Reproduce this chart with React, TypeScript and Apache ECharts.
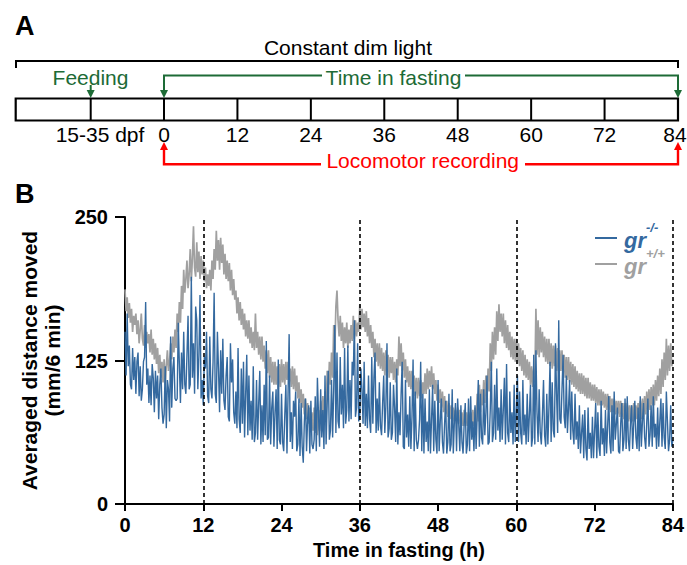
import React, { useEffect, useRef } from "react";
import * as echarts from "echarts";

const FONT = "'Liberation Sans', Arial, sans-serif";
const BLUE = "#34699f";
const GRAY = "#a0a0a0";
const GREEN = "#1d6b36";
const RED = "#ff0000";

// samples per hour of the recordings (10-min bins)
const SAMPLES_PER_HOUR = 6;
const X_TICK_INTERVAL = 12;
const DASHED_HOURS = [12, 36, 60, 84];
const TIMELINE_HOURS = [0, 12, 24, 36, 48, 60, 72, 84];

// gr+/+ (gray), 6 samples per hour, 0..84 h (one row per hour)
const GR_WT = [
  187, 168, 180, 162, 175, 158,
  170, 150, 164, 156, 166, 148,
  160, 140, 152, 166, 144, 138,
  156, 136, 150, 140, 148, 132,
  152, 130, 144, 126, 140, 122,
  136, 114, 130, 110, 124, 106,
  126, 104, 120, 134, 116, 124,
  140, 126, 146, 132, 152, 136,
  166, 150, 176, 158, 190, 170,
  204, 184, 196, 212, 188, 200,
  222, 194, 214, 242, 206, 198,
  228, 202, 220, 196, 216, 200,
  212, 194, 206, 188, 200, 190,
  204, 186, 212, 196, 222, 204,
  238, 212, 230, 204, 232, 210,
  226, 200, 218, 196, 212, 194,
  210, 186, 204, 182, 196, 178,
  186, 166, 180, 160, 176, 156,
  170, 152, 166, 146, 160, 144,
  160, 140, 154, 136, 150, 134,
  166, 136, 150, 130, 146, 126,
  146, 124, 138, 118, 134, 114,
  134, 110, 128, 106, 124, 104,
  124, 104, 120, 100, 122, 102,
  126, 106, 122, 104, 124, 108,
  124, 106, 118, 102, 120, 100,
  118, 98, 112, 92, 106, 88,
  100, 84, 96, 78, 92, 74,
  88, 70, 84, 66, 80, 64,
  84, 62, 80, 60, 82, 64,
  90, 70, 94, 74, 98, 80,
  116, 96, 124, 104, 132, 110,
  156, 134, 172, 186, 160, 146,
  164, 142, 158, 136, 154, 140,
  158, 136, 152, 140, 156, 142,
  164, 144, 160, 146, 158, 150,
  174, 152, 170, 154, 166, 150,
  168, 146, 162, 140, 156, 136,
  150, 128, 144, 124, 140, 120,
  140, 118, 136, 116, 132, 112,
  134, 112, 130, 110, 128, 114,
  128, 108, 124, 106, 126, 112,
  146, 120, 140, 116, 132, 110,
  126, 106, 120, 102, 116, 100,
  116, 98, 112, 94, 110, 92,
  110, 94, 108, 92, 106, 96,
  114, 96, 118, 100, 116, 102,
  120, 100, 114, 96, 108, 90,
  104, 88, 100, 84, 98, 80,
  94, 78, 90, 76, 88, 74,
  86, 72, 84, 72, 82, 70,
  84, 70, 82, 70, 80, 68,
  82, 68, 80, 68, 80, 66,
  80, 68, 82, 68, 84, 70,
  96, 72, 104, 80, 100, 86,
  108, 88, 112, 92, 118, 98,
  140, 116, 150, 126, 154, 130,
  168, 142, 174, 150, 166, 146,
  166, 140, 160, 136, 156, 134,
  150, 128, 146, 126, 144, 124,
  144, 122, 140, 120, 136, 116,
  134, 112, 130, 110, 126, 108,
  124, 104, 120, 102, 118, 106,
  170, 130, 160, 128, 154, 132,
  150, 128, 146, 124, 144, 122,
  144, 120, 140, 118, 138, 120,
  138, 116, 136, 114, 134, 116,
  134, 112, 130, 110, 128, 108,
  128, 106, 124, 104, 122, 102,
  120, 100, 116, 98, 114, 96,
  114, 96, 112, 94, 110, 92,
  110, 92, 106, 90, 104, 90,
  104, 88, 102, 86, 100, 86,
  100, 86, 98, 84, 96, 82,
  96, 82, 94, 80, 92, 80,
  92, 78, 90, 78, 90, 76,
  90, 76, 88, 74, 88, 74,
  88, 72, 86, 72, 86, 72,
  88, 72, 86, 74, 88, 74,
  90, 74, 92, 76, 94, 78,
  98, 80, 100, 82, 102, 86,
  104, 86, 108, 90, 112, 94,
  118, 96, 126, 102, 132, 108,
  144, 112, 138, 116, 140, 120,
  126,
];

// gr-/- (blue), 6 samples per hour, 0..84 h (one row per hour)
const GR_KO = [
  150, 112, 166, 120, 138, 104,
  100, 136, 108, 128, 96, 124,
  132, 94, 120, 90, 100, 124,
  128, 176, 104, 118, 88, 112,
  86, 122, 110, 80, 116, 92,
  112, 74, 104, 118, 84, 70,
  78, 120, 66, 108, 100, 72,
  146, 84, 118, 128, 92, 90,
  92, 158, 122, 88, 132, 100,
  150, 104, 96, 130, 164, 100,
  104, 198, 110, 140, 96, 172,
  160, 100, 130, 182, 92, 108,
  86, 128, 118, 150, 94, 88,
  146, 100, 92, 124, 184, 96,
  88, 150, 118, 80, 134, 96,
  144, 90, 82, 112, 128, 76,
  72, 140, 106, 126, 80, 70,
  98, 66, 136, 74, 62, 118,
  70, 124, 58, 96, 130, 60,
  112, 64, 90, 56, 120, 54,
  62, 108, 56, 88, 116, 52,
  86, 54, 104, 60, 142, 56,
  58, 112, 52, 84, 98, 50,
  80, 100, 48, 126, 56, 52,
  96, 54, 46, 78, 104, 44,
  96, 148, 54, 80, 48, 90,
  76, 98, 46, 52, 92, 42,
  88, 50, 36, 72, 92, 46,
  74, 86, 44, 90, 52, 48,
  56, 94, 46, 110, 78, 50,
  100, 58, 82, 48, 112, 52,
  88, 116, 56, 64, 108, 58,
  100, 156, 62, 132, 72, 66,
  128, 78, 104, 66, 136, 70,
  82, 138, 72, 108, 74, 124,
  112, 160, 76, 84, 140, 72,
  78, 118, 100, 70, 124, 68,
  96, 66, 112, 74, 62, 128,
  70, 110, 132, 62, 92, 64,
  106, 68, 60, 88, 112, 62,
  86, 140, 58, 66, 106, 56,
  62, 104, 84, 54, 118, 52,
  80, 60, 96, 124, 50, 48,
  108, 58, 78, 50, 94, 48,
  76, 126, 46, 98, 56, 48,
  56, 74, 124, 46, 96, 44,
  92, 54, 72, 46, 100, 44,
  74, 104, 46, 90, 56, 44,
  108, 46, 72, 92, 54, 44,
  70, 90, 44, 54, 96, 46,
  52, 100, 44, 72, 88, 46,
  92, 70, 46, 86, 54, 44,
  70, 88, 44, 52, 92, 46,
  94, 56, 72, 46, 86, 48,
  78, 108, 50, 96, 58, 52,
  100, 60, 80, 112, 52, 54,
  82, 124, 54, 62, 104, 56,
  118, 64, 84, 54, 100, 56,
  82, 110, 52, 122, 62, 54,
  98, 62, 80, 52, 104, 54,
  80, 112, 54, 98, 62, 52,
  108, 60, 78, 52, 96, 54,
  78, 104, 50, 58, 130, 52,
  134, 80, 54, 100, 62, 52,
  78, 108, 60, 50, 96, 52,
  84, 124, 54, 106, 64, 58,
  140, 96, 62, 160, 74, 70,
  100, 130, 76, 66, 112, 62,
  84, 108, 56, 98, 64, 52,
  96, 56, 72, 48, 86, 44,
  62, 78, 40, 82, 48, 38,
  84, 48, 62, 40, 76, 40,
  64, 88, 40, 80, 50, 42,
  90, 52, 66, 42, 82, 44,
  68, 94, 54, 44, 86, 46,
  98, 56, 70, 84, 46, 44,
  70, 88, 46, 56, 92, 48,
  94, 56, 46, 70, 86, 48,
  70, 90, 58, 48, 84, 46,
  94, 50, 72, 88, 58, 48,
  72, 92, 50, 60, 86, 50,
  94, 58, 70, 48, 84, 50,
  72, 92, 50, 88, 58, 48,
  98, 72, 46, 56, 86, 50,
  56,
];

const tlX = (h: number) => 164 + (h / 84) * 514;

function txt(text: string, x: number, y: number, size: number, color: string, opts: any = {}) {
  return {
    type: "text",
    x,
    y,
    style: {
      text,
      fill: color,
      fontSize: size,
      fontWeight: opts.bold ? "bold" : "normal",
      fontStyle: opts.italic ? "italic" : "normal",
      fontFamily: FONT,
      align: opts.align || "center",
      verticalAlign: "middle",
      textAlign: opts.align || "center",
      textVerticalAlign: "middle",
      rich: opts.rich,
    },
    silent: true,
  };
}

function line(x1: number, y1: number, x2: number, y2: number, color: string, w: number) {
  return { type: "line", shape: { x1, y1, x2, y2 }, style: { stroke: color, lineWidth: w }, silent: true };
}

function poly(points: number[][], color: string, w: number) {
  return { type: "polyline", shape: { points }, style: { stroke: color, lineWidth: w, fill: null }, silent: true };
}

function headDown(x: number, tip: number, color: string) {
  return { type: "polygon", shape: { points: [[x - 4, tip - 8], [x + 4, tip - 8], [x, tip]] }, style: { fill: color }, silent: true };
}
function headUp(x: number, tip: number, color: string) {
  return { type: "polygon", shape: { points: [[x - 4, tip + 8], [x + 4, tip + 8], [x, tip]] }, style: { fill: color }, silent: true };
}

function buildGraphic() {
  const els: any[] = [];
  els.push(txt("A", 15, 26, 27, "#000", { bold: true, align: "left" }));
  els.push(txt("B", 15, 194, 27, "#000", { bold: true, align: "left" }));
  els.push(txt("Constant dim light", 348, 47, 21, "#000"));
  els.push(poly([[16, 68], [16, 61], [678, 61], [678, 68]], "#000", 2));
  els.push(txt("Feeding", 90.5, 77, 21, GREEN));
  els.push(line(90.7, 85, 90.7, 92, GREEN, 2));
  els.push(headDown(90.7, 98, GREEN));
  els.push(txt("Time in fasting", 393.5, 77, 21, GREEN));
  els.push(poly([[tlX(0), 92], [tlX(0), 75.5], [322, 75.5]], GREEN, 2));
  els.push(poly([[465, 75.5], [tlX(84), 75.5], [tlX(84), 92]], GREEN, 2));
  els.push(headDown(tlX(0), 98, GREEN));
  els.push(headDown(tlX(84), 98, GREEN));
  els.push({ type: "rect", shape: { x: 15.7, y: 98.5, width: tlX(84) - 15.7, height: 22 }, style: { stroke: "#000", lineWidth: 2.2, fill: null }, silent: true });
  els.push(line(90.7, 98.5, 90.7, 120.5, "#000", 2));
  TIMELINE_HOURS.slice(0, -1).forEach((h) => els.push(line(tlX(h), 98.5, tlX(h), 120.5, "#000", 2)));
  els.push(txt("15-35 dpf", 100, 134, 21, "#000"));
  TIMELINE_HOURS.forEach((h) => els.push(txt(String(h), Math.min(tlX(h), 675), 134, 21, "#000")));
  els.push(txt("Locomotor recording", 422.7, 160, 21, RED));
  els.push(poly([[tlX(0), 148], [tlX(0), 164.3], [321, 164.3]], RED, 2.4));
  els.push(poly([[525, 164.3], [tlX(84), 164.3], [tlX(84), 148]], RED, 2.4));
  els.push(headUp(tlX(0), 142, RED));
  els.push(headUp(tlX(84), 142, RED));
  const legendRows = [
    { y: 238, color: BLUE, sup: "-/-" },
    { y: 264, color: GRAY, sup: "+/+" },
  ];
  legendRows.forEach((r) => {
    els.push(line(595, r.y, 617, r.y, r.color, 2));
    els.push(
      txt(`{g|gr}{s|${r.sup}}`, 624, r.y - 2, 21, r.color, {
        align: "left",
        rich: {
          g: { fontSize: 22, fontWeight: "bold", fontStyle: "italic", fontFamily: FONT, fill: r.color, lineHeight: 30, verticalAlign: "bottom" },
          s: { fontSize: 13, fontWeight: "bold", fontStyle: "italic", fontFamily: FONT, fill: r.color, lineHeight: 14, verticalAlign: "top" },
        },
      })
    );
  });
  return els;
}

export default function App() {
  const ref = useRef<HTMLDivElement>(null);
  useEffect(() => {
    document.body.style.margin = "0";
    if (!ref.current) return;
    const chart = echarts.init(ref.current, null, { renderer: "svg" });
    const wt = GR_WT.map((v, i) => [i / SAMPLES_PER_HOUR, v]);
    const ko = GR_KO.map((v, i) => [i / SAMPLES_PER_HOUR, v]);
    chart.setOption({
      animation: false,
      backgroundColor: "#fff",
      grid: { left: 125, right: 12, top: 217, bottom: 58, containLabel: false },
      xAxis: {
        type: "value",
        min: 0,
        max: 84,
        interval: X_TICK_INTERVAL,
        axisLine: { show: true, lineStyle: { color: "#000", width: 2 } },
        axisTick: { show: true, length: 7, lineStyle: { color: "#000", width: 2 } },
        axisLabel: { fontSize: 20, fontWeight: "bold", color: "#000", fontFamily: FONT, margin: 11 },
        splitLine: { show: false },
        name: "Time in fasting (h)",
        nameLocation: "middle",
        nameGap: 34,
        nameTextStyle: { fontSize: 20, fontWeight: "bold", color: "#000", fontFamily: FONT },
      },
      yAxis: {
        type: "value",
        min: 0,
        max: 250,
        interval: 125,
        axisLine: { show: true, lineStyle: { color: "#000", width: 2 } },
        axisTick: { show: true, length: 10, lineStyle: { color: "#000", width: 2 } },
        axisLabel: { fontSize: 20, fontWeight: "bold", color: "#000", fontFamily: FONT, margin: 17 },
        splitLine: { show: false },
        name: "Averaged distance moved\n(mm/6 min)",
        nameLocation: "middle",
        nameGap: 57,
        nameTextStyle: { fontSize: 21, fontWeight: "bold", color: "#000", fontFamily: FONT, lineHeight: 23 },
      },
      series: [
        {
          name: "gr+/+",
          type: "line",
          data: wt,
          showSymbol: false,
          symbol: "none",
          lineStyle: { color: GRAY, width: 1.7 },
          itemStyle: { color: GRAY },
          z: 2,
        },
        {
          name: "gr-/-",
          type: "line",
          data: ko,
          showSymbol: false,
          symbol: "none",
          lineStyle: { color: BLUE, width: 1.4 },
          itemStyle: { color: BLUE },
          z: 3,
          markLine: {
            silent: true,
            symbol: ["none", "none"],
            label: { show: false },
            lineStyle: { color: "#000", type: [4, 3], width: 1.6 },
            data: DASHED_HOURS.map((h) => ({ xAxis: h })),
            z: 5,
          },
        },
      ],
      graphic: buildGraphic(),
    });
    return () => chart.dispose();
  }, []);
  return <div ref={ref} style={{ position: "fixed", left: 0, top: 0, width: 687, height: 565 }} />;
}
